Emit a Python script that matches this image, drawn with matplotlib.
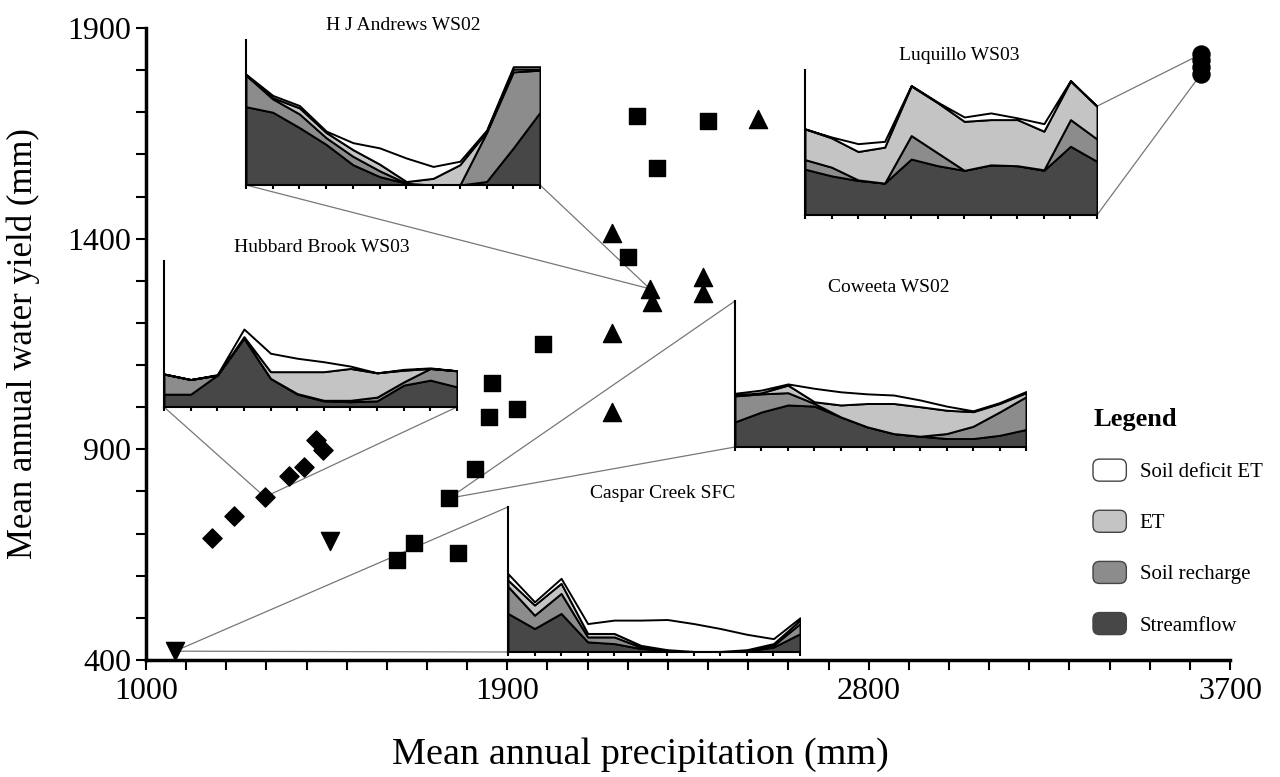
import numpy as np
import matplotlib
matplotlib.use('Agg')
import matplotlib.pyplot as plt
from matplotlib.patches import ConnectionPatch, FancyBboxPatch, Patch
from matplotlib.legend_handler import HandlerPatch
from matplotlib.ticker import MultipleLocator

plt.rcParams['font.family'] = ['Liberation Serif', 'DejaVu Serif']

# mean annual precipitation (x) vs mean annual water yield (y), mm
diamond_x = [1164, 1219, 1296, 1356, 1394, 1423, 1441]
diamond_y = [690, 742, 787, 837, 858, 922, 898]
tri_down_x = [1072, 1458]
tri_down_y = [421, 682]
square_x = [2223, 2400, 2273, 2201, 1989, 1862, 1924, 1854, 1819, 1755, 1668, 1625, 1777]
square_y = [1691, 1679, 1568, 1356, 1150, 1057, 996, 977, 853, 784, 678, 637, 654]
tri_up_x = [2524, 2161, 2255, 2260, 2387, 2387, 2161, 2161]
tri_up_y = [1684, 1413, 1281, 1250, 1309, 1271, 1176, 989]
circle_x = [3628, 3628, 3628, 3628]
circle_y = [1838, 1824, 1807, 1791]

# monthly water balance of the five sites (mm)
months = list(range(12))
layer_names = ['Streamflow', 'Soil recharge', 'ET', 'Soil deficit ET']
layer_colors = ['#474747', '#8c8c8c', '#c4c4c4', '#ffffff']

hja_stream = [270, 251, 198, 140, 70, 29, 6, 0, 0, 12, 128, 251]
hja_recharge = [109, 46, 47, 23, 29, 20, 0, 0, 0, 169, 262, 145]
hja_et = [0, 4, 21, 18, 23, 23, 6, 23, 70, 3, 10, 4]
hja_deficit = [3, 8, 8, 5, 24, 56, 81, 41, 12, 5, 8, 8]

luq_stream = [158, 135, 119, 110, 193, 170, 154, 173, 170, 154, 237, 185]
luq_recharge = [33, 30, 2, 0, 81, 44, 0, 0, 0, 2, 92, 77]
luq_et = [106, 101, 98, 124, 171, 173, 169, 156, 159, 133, 133, 113]
luq_deficit = [0, 3, 27, 20, 2, 2, 15, 23, 6, 26, 2, 0]

hbr_stream = [44, 44, 109, 236, 98, 44, 21, 18, 21, 75, 92, 69]
hbr_recharge = [69, 50, 0, 0, 0, 2, 2, 5, 13, 11, 40, 55]
hbr_et = [0, 0, 0, 5, 23, 75, 98, 109, 83, 40, 0, 0]
hbr_deficit = [0, 0, 2, 26, 63, 46, 34, 8, 0, 3, 2, 0]

cwt_stream = [86, 120, 144, 140, 103, 69, 46, 37, 29, 29, 40, 60]
cwt_recharge = [89, 62, 42, 9, 0, 0, 0, 0, 17, 42, 80, 112]
cwt_et = [3, 4, 26, 6, 41, 80, 103, 101, 80, 50, 29, 14]
cwt_deficit = [6, 9, 4, 46, 45, 33, 29, 23, 14, 3, 3, 4]

csp_stream = [133, 81, 133, 35, 29, 12, 6, 0, 0, 3, 17, 63]
csp_recharge = [93, 46, 69, 17, 23, 5, 0, 0, 0, 3, 6, 35]
csp_et = [22, 35, 35, 12, 12, 6, 2, 2, 2, 2, 6, 12]
csp_deficit = [22, 11, 17, 34, 46, 87, 104, 96, 79, 53, 17, 8]

W, H = 1280, 777
fig = plt.figure(figsize=(W / 100, H / 100), dpi=100)
ax = fig.add_axes([146 / W, 1 - 660 / H, (1230 - 146) / W, (660 - 28) / H])

ax.scatter(diamond_x, diamond_y, marker='D', s=95, color='black', zorder=3)
ax.scatter(tri_down_x, tri_down_y, marker='v', s=170, color='black', zorder=3)
ax.scatter(square_x, square_y, marker='s', s=130, color='black', zorder=3)
ax.scatter(tri_up_x, tri_up_y, marker='^', s=170, color='black', zorder=3)
ax.scatter(circle_x, circle_y, marker='o', s=150, color='black', zorder=3)

ax.set_xlim(1000, 3700)
ax.set_ylim(400, 1900)
ax.set_xticks([1000, 1900, 2800, 3700])
ax.set_yticks([400, 900, 1400, 1900])
ax.xaxis.set_minor_locator(MultipleLocator(100))
ax.yaxis.set_minor_locator(MultipleLocator(100))
ax.tick_params(which='both', direction='out', length=7, width=1.5, labelsize=23)
ax.tick_params(axis='x', pad=5)
for s in ['top', 'right']:
    ax.spines[s].set_visible(False)
for s in ['left', 'bottom']:
    ax.spines[s].set_linewidth(2.5)
ax.set_xlabel('Mean annual precipitation (mm)', fontsize=27.5)
ax.xaxis.set_label_coords(0.456, -0.122)
ax.set_ylabel('Mean annual water yield (mm)', fontsize=25, labelpad=20)


def inset(rect_px, title, title_px, layers):
    x0, y0, x1, y1 = rect_px
    a = fig.add_axes([x0 / W, 1 - y1 / H, (x1 - x0) / W, (y1 - y0) / H])
    a.stackplot(months, *layers, colors=layer_colors, edgecolor='black', linewidth=1.4)
    a.set_xlim(0, 11)
    a.set_ylim(0, 500)
    a.patch.set_alpha(0)
    for s in ['top', 'right']:
        a.spines[s].set_visible(False)
    for s in ['left', 'bottom']:
        a.spines[s].set_linewidth(1.5)
    a.set_xticks(months)
    a.set_xticklabels([])
    a.set_yticks([])
    a.tick_params(axis='x', direction='out', length=3, width=1.5)
    fig.text(title_px[0] / W, 1 - title_px[1] / H, title, ha='center', va='center', fontsize=14)
    return a


def connect(a, xy_inset, coords, xy_main):
    con = ConnectionPatch(xyA=xy_inset, coordsA=coords, xyB=xy_main, coordsB=ax.transData,
                          color='#777777', lw=0.9, zorder=1)
    ax.add_artist(con)


hja = inset((246, 40, 540, 185), 'H J Andrews WS02', (403, 25),
            [hja_stream, hja_recharge, hja_et, hja_deficit])
luq = inset((805, 70, 1097, 215), 'Luquillo WS03', (959, 56),
            [luq_stream, luq_recharge, luq_et, luq_deficit])
hbr = inset((164, 261, 457, 407), 'Hubbard Brook WS03', (322, 248),
            [hbr_stream, hbr_recharge, hbr_et, hbr_deficit])
cwt = inset((735, 301, 1026, 447), 'Coweeta WS02', (889, 287),
            [cwt_stream, cwt_recharge, cwt_et, cwt_deficit])
csp = inset((508, 507, 800, 652), 'Caspar Creek SFC', (663, 493),
            [csp_stream, csp_recharge, csp_et, csp_deficit])

connect(hja, (0, 0), hja.transAxes, (tri_up_x[2], tri_up_y[2]))
connect(hja, (1, 0), hja.transAxes, (tri_up_x[2], tri_up_y[2]))
luq_top = luq_stream[11] + luq_recharge[11] + luq_et[11] + luq_deficit[11]
connect(luq, (11, luq_top), luq.transData, (circle_x[1], circle_y[0]))
connect(luq, (1, 0), luq.transAxes, (circle_x[3], circle_y[3]))
connect(hbr, (0, 0), hbr.transAxes, (diamond_x[2], diamond_y[2]))
connect(hbr, (1, 0), hbr.transAxes, (diamond_x[2], diamond_y[2]))
connect(cwt, (0, 1), cwt.transAxes, (square_x[9], square_y[9]))
connect(cwt, (0, 0), cwt.transAxes, (square_x[9], square_y[9]))
connect(csp, (0, 1), csp.transAxes, (tri_down_x[0], tri_down_y[0]))
connect(csp, (0, 0), csp.transAxes, (tri_down_x[0], tri_down_y[0]))


class RoundBox(HandlerPatch):
    def create_artists(self, legend, orig_handle, xdescent, ydescent, width, height, fontsize, trans):
        p = FancyBboxPatch((-xdescent, -ydescent), width, height,
                           boxstyle='round,pad=0,rounding_size=%g' % (height * 0.3),
                           facecolor=orig_handle.get_facecolor(), edgecolor='#444444',
                           lw=1.0, transform=trans)
        return [p]


handles = [Patch(facecolor=c) for c in layer_colors[::-1]]
leg = ax.legend(handles, layer_names[::-1], loc='upper left',
                bbox_to_anchor=(1093 / W, 1 - 408 / H), bbox_transform=fig.transFigure,
                frameon=False, borderpad=0, borderaxespad=0, fontsize=15,
                handlelength=1.6, handleheight=1.25, handletextpad=0.65, labelspacing=1.35,
                title='Legend', alignment='left', handler_map={Patch: RoundBox()},
                title_fontproperties={'weight': 'bold', 'size': 19})

fig.savefig('out.png', dpi=100)
